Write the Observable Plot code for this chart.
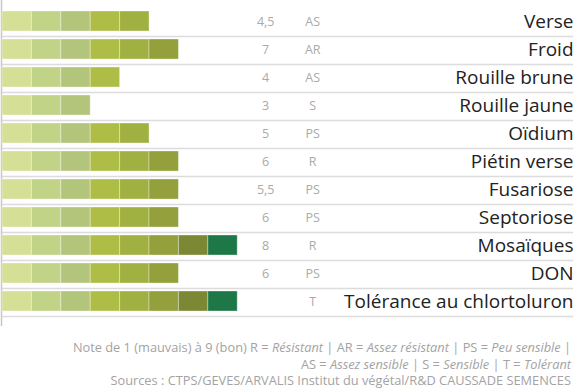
<!DOCTYPE html>
<html>
<head>
<meta charset="utf-8">
<script src="https://cdn.jsdelivr.net/npm/d3@7"></script>
<script src="https://cdn.jsdelivr.net/npm/@observablehq/plot@0.6"></script>
<style>
  html, body { margin: 0; padding: 0; background: #fff; }
  #chart { width: 577px; }
  .note { font-family: "Open Sans", Lato, sans-serif; font-size: 12.8px; color: #a3a3a3; text-align: right; padding-right: 6px; line-height: 16.5px; margin-top: 13px; white-space: nowrap; }
  .note i { font-style: italic; }
</style>
</head>
<body>
<div id="chart"></div>
<script>
const categories = ["Verse", "Froid", "Rouille brune", "Rouille jaune", "Oïdium", "Piétin verse", "Fusariose", "Septoriose", "Mosaïques", "DON", "Tolérance au chlortoluron"];
const scores = ["4,5", "7", "4", "3", "5", "6", "5,5", "6", "8", "6", ""];
const classes = ["AS", "AR", "AS", "S", "PS", "R", "PS", "PS", "R", "PS", "T"];
const segments = [5, 6, 4, 3, 5, 6, 6, 6, 8, 6, 8];
const segmentColors = ["#d5df95", "#c1d387", "#b3c57b", "#aebd45", "#a1b141", "#93a03b", "#7c8834", "#1e7747"];

const rows = categories.map((c, i) => ({name: c, score: scores[i], cls: classes[i], n: segments[i]}));
const cells = rows.flatMap(r => d3.range(r.n).map(k => ({name: r.name, x1: k, x2: k + 1, color: segmentColors[k]})));

const font = "'Open Sans', Lato, sans-serif";
const chart = Plot.plot({
  width: 577,
  height: 326,
  marginTop: 0,
  marginBottom: 4,
  marginLeft: 2,
  marginRight: 4,
  style: {fontFamily: font, background: "white"},
  x: {domain: [0, 19.42], axis: null},
  y: {domain: categories, axis: null, padding: 0.28, align: 0.5},
  marks: [
    Plot.tickY(categories, {y: d => d, stroke: "#dcdcdc", strokeWidth: 1.6, dy: 15}),
    Plot.ruleX([0], {stroke: "#c8c8c8", strokeWidth: 1.5, dx: -1, insetBottom: -4}),
    Plot.barX(cells, {y: "name", x1: "x1", x2: "x2", fill: "color", stroke: "white", strokeOpacity: 0.35, strokeWidth: 1}),
    Plot.text(rows, {y: "name", x: () => 8.95, text: "score", fill: "#aaaaaa", fontSize: 12.5}),
    Plot.text(rows, {y: "name", x: () => 10.55, text: "cls", fill: "#aaaaaa", fontSize: 12.5}),
    Plot.text(rows, {y: "name", frameAnchor: "right", textAnchor: "end", text: "name", fill: "#222222", fontSize: 19})
  ]
});
document.getElementById("chart").appendChild(chart);
const note = document.createElement("div");
note.className = "note";
note.innerHTML = "Note de 1 (mauvais) à 9 (bon) R = <i>Résistant</i> | AR = <i>Assez résistant</i> | PS = <i>Peu sensible</i> |<br>AS = <i>Assez sensible</i> | S = <i>Sensible</i> | T = <i>Tolérant</i><br>Sources : CTPS/GEVES/ARVALIS Institut du végétal/R&amp;D CAUSSADE SEMENCES";
document.getElementById("chart").appendChild(note);
</script>
</body>
</html>
